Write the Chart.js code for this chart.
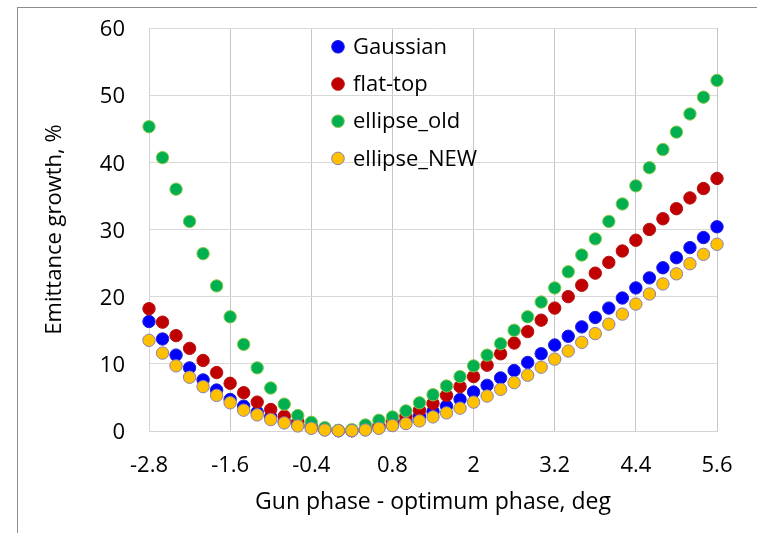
<!DOCTYPE html>
<html>
<head>
<meta charset="utf-8">
<script src="https://cdn.jsdelivr.net/npm/chart.js@4.4.1/dist/chart.umd.min.js"></script>
<style>
  html, body { margin: 0; padding: 0; background: #fff; }
  #wrap { position: relative; width: 757px; height: 533px; overflow: hidden; }
  #frame { position: absolute; left: 17px; top: 7px; width: 760px; height: 540px;
           border-left: 1px solid #8c8c8c; border-top: 1px solid #8c8c8c; }
  canvas { position: absolute; left: 0; top: 0; }
</style>
</head>
<body>
<div id="wrap">
  <div id="frame"></div>
  <canvas id="chart" width="757" height="533"></canvas>
</div>
<script>
// Gun phase offset from the optimum, deg (0.2 deg steps)
const phase = [
  -2.8, -2.6, -2.4, -2.2, -2.0, -1.8, -1.6, -1.4, -1.2, -1.0, -0.8, -0.6, -0.4, -0.2,
   0.0,  0.2,  0.4,  0.6,  0.8,  1.0,  1.2,  1.4,  1.6,  1.8,  2.0,  2.2,  2.4,  2.6,
   2.8,  3.0,  3.2,  3.4,  3.6,  3.8,  4.0,  4.2,  4.4,  4.6,  4.8,  5.0,  5.2,  5.4, 5.6
];

// Emittance growth, %
const gaussian = [
  16.3, 13.7, 11.3, 9.4, 7.6, 6.1, 4.7, 3.7, 2.8, 2.1, 1.4, 0.9, 0.5, 0.2,
  0.05, 0.05, 0.2, 0.5, 0.9, 1.5, 2.2, 2.9, 3.7, 4.7, 5.8, 6.8, 7.9, 9.0,
  10.2, 11.5, 12.8, 14.1, 15.5, 16.9, 18.3, 19.8, 21.3, 22.8, 24.3, 25.8, 27.3, 28.8, 30.4
];
const flatTop = [
  18.2, 16.2, 14.2, 12.3, 10.5, 8.7, 7.1, 5.7, 4.3, 3.2, 2.2, 1.4, 0.8, 0.3,
  0.05, 0.05, 0.3, 0.8, 1.4, 2.2, 3.1, 4.1, 5.3, 6.6, 8.1, 9.8, 11.5, 13.1,
  14.8, 16.5, 18.3, 20.0, 21.7, 23.5, 25.1, 26.8, 28.4, 30.0, 31.6, 33.1, 34.7, 36.1, 37.6
];
const ellipseOld = [
  45.3, 40.7, 36.0, 31.2, 26.4, 21.6, 17.0, 12.9, 9.4, 6.4, 4.0, 2.3, 1.3, 0.5,
  0.1, 0.2, 0.9, 1.6, 2.1, 3.0, 4.2, 5.4, 6.7, 8.1, 9.7, 11.3, 13.0, 15.0,
  17.0, 19.2, 21.3, 23.7, 26.2, 28.6, 31.2, 33.8, 36.5, 39.2, 41.9, 44.5, 47.2, 49.7, 52.2
];
const ellipseNew = [
  13.5, 11.6, 9.7, 8.0, 6.6, 5.3, 4.2, 3.1, 2.4, 1.7, 1.2, 0.75, 0.4, 0.15,
  0.05, 0.05, 0.15, 0.4, 0.8, 1.1, 1.5, 2.1, 2.7, 3.4, 4.3, 5.2, 6.2, 7.2,
  8.3, 9.5, 10.7, 11.9, 13.2, 14.5, 15.9, 17.4, 18.9, 20.4, 21.9, 23.4, 24.9, 26.3, 27.8
];

const seriesNames = ['Gaussian', 'flat-top', 'ellipse_old', 'ellipse_NEW'];
const xTicks = [-2.8, -1.6, -0.4, 0.8, 2, 3.2, 4.4, 5.6];
const yTicks = [0, 10, 20, 30, 40, 50, 60];

const FONT = "'Open Sans', 'DejaVu Sans', sans-serif";

function pts(values) {
  return values.map((v, i) => ({ x: phase[i], y: v }));
}

function series(label, values, fill, stroke, order) {
  return {
    label,
    data: pts(values),
    backgroundColor: fill,
    borderColor: stroke,
    pointBackgroundColor: fill,
    pointBorderColor: stroke,
    pointBorderWidth: 1,
    pointRadius: 6.2,
    pointHoverRadius: 6.2,
    showLine: false,
    clip: false,
    order
  };
}

// Fixed axis box sizes so the plot area sits at a set place
function fixBox(size) {
  return (s) => {
    if (s.isHorizontal()) s.height = size; else s.width = size;
    s.paddingTop = 0;
    s.paddingBottom = 0;
    s.paddingLeft = 0;
    s.paddingRight = 0;
  };
}

// Legend drawn inside the plot area, one row per series
const innerLegend = {
  id: 'innerLegend',
  afterDraw(chart) {
    const ctx = chart.ctx;
    const area = chart.chartArea;
    const x0 = area.left + 189;
    const y0 = area.top + 18.8;
    const rowGap = 37.2;
    ctx.save();
    ctx.font = '22px ' + FONT;
    ctx.textBaseline = 'middle';
    ctx.textAlign = 'left';
    chart.data.datasets.forEach((ds, i) => {
      const y = y0 + i * rowGap;
      ctx.beginPath();
      ctx.arc(x0, y, 6.3, 0, Math.PI * 2);
      ctx.fillStyle = ds.pointBackgroundColor;
      ctx.fill();
      ctx.lineWidth = 1;
      ctx.strokeStyle = ds.pointBorderColor;
      ctx.stroke();
      ctx.fillStyle = '#000';
      ctx.fillText(ds.label, x0 + 15, y + 1);
    });
    ctx.restore();
  }
};

new Chart(document.getElementById('chart'), {
  type: 'scatter',
  data: {
    datasets: [
      series(seriesNames[0], gaussian, '#0000FF', '#1f1fd0', 4),
      series(seriesNames[1], flatTop, '#C00000', '#b81010', 3),
      series(seriesNames[2], ellipseOld, '#00B050', '#8cc84a', 2),
      series(seriesNames[3], ellipseNew, '#FFC000', '#8a80b4', 1)
    ]
  },
  options: {
    responsive: false,
    devicePixelRatio: 1,
    animation: false,
    events: [],
    layout: { autoPadding: false, padding: { top: 28, right: 40, left: 0, bottom: 0 } },
    plugins: {
      legend: { display: false },
      tooltip: { enabled: false }
    },
    scales: {
      x: {
        type: 'linear',
        min: -2.8,
        max: 5.6,
        afterBuildTicks: (s) => { s.ticks = xTicks.map(v => ({ value: v })); },
        afterFit: fixBox(102),
        grid: { color: '#c6c6c6', lineWidth: 1, drawTicks: false },
        border: { color: '#d4d4d4' },
        ticks: {
          padding: 22,
          color: '#000',
          font: { family: FONT, size: 22 },
          maxRotation: 0,
          callback: (v) => String(v)
        },
        title: {
          display: true,
          text: 'Gun phase - optimum phase, deg',
          color: '#000',
          font: { family: FONT, size: 23 },
          padding: 17
        }
      },
      y: {
        type: 'linear',
        min: 0,
        max: 60,
        afterBuildTicks: (s) => { s.ticks = yTicks.map(v => ({ value: v })); },
        afterFit: fixBox(149),
        grid: { color: '#d9d9d9', lineWidth: 1, drawTicks: false },
        border: { color: '#d4d4d4' },
        ticks: {
          padding: 24,
          labelOffset: 2,
          color: '#000',
          font: { family: FONT, size: 22 },
          callback: (v) => String(v)
        },
        title: {
          display: true,
          text: 'Emittance growth, %',
          color: '#000',
          font: { family: FONT, size: 22 },
          padding: 42
        }
      }
    }
  },
  plugins: [innerLegend]
});
</script>
</body>
</html>
